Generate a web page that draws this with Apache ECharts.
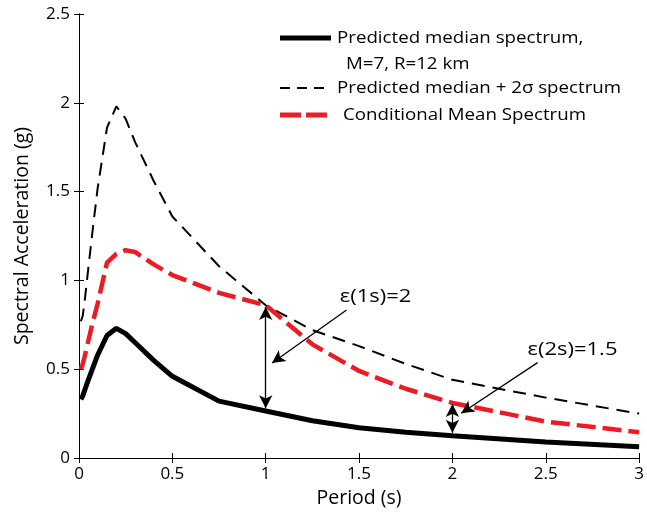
<!DOCTYPE html>
<html>
<head>
<meta charset="utf-8">
<script src="https://cdn.jsdelivr.net/npm/echarts@6/dist/echarts.min.js"></script>
<style>
html,body{margin:0;padding:0;background:#fff;}
#chart{width:647px;height:513px;}
</style>
</head>
<body>
<div id="chart"></div>
<script>
// ---- data ----
const periods = [0.01,0.02,0.03,0.05,0.075,0.1,0.15,0.2,0.25,0.3,0.4,0.5,0.75,1,1.25,1.5,1.75,2,2.5,3];
const medianSa = [0.33,0.35,0.38,0.44,0.51,0.58,0.69,0.73,0.70,0.65,0.55,0.46,0.32,0.265,0.21,0.17,0.145,0.125,0.09,0.063];
const plus2SigmaSa = [0.77,0.80,0.88,1.07,1.30,1.52,1.86,1.98,1.91,1.78,1.56,1.36,1.08,0.86,0.72,0.63,0.53,0.44,0.34,0.25];
const cmsSa = [0.50,0.53,0.57,0.66,0.77,0.87,1.10,1.15,1.17,1.16,1.09,1.03,0.93,0.86,0.64,0.49,0.39,0.31,0.205,0.145];

const xTicks = [0,0.5,1,1.5,2,2.5,3];
const yTicks = [0,0.5,1,1.5,2,2.5];

const legendNames = ['Predicted median spectrum,', 'M=7, R=12 km', 'Predicted median + 2\u03c3 spectrum', 'Conditional Mean Spectrum'];
const xTitle = 'Period (s)';
const yTitle = 'Spectral Acceleration (g)';

// annotations (data coordinates)
const doubleArrows = [
  {x:1, from:0.28, to:0.85},
  {x:2, from:0.142, to:0.304}
];
const pointers = [
  {from:[1.433,0.833], to:[1.034,0.535]},
  {from:[2.456,0.537], to:[2.047,0.252]}
];
const annoTexts = [
  {at:[1.588,0.907], text:'\u03b5(1s)=2'},
  {at:[2.643,0.608], text:'\u03b5(2s)=1.5'}
];

const FONT = '"Open Sans", sans-serif';
const RED = '#ED1C24';
const pairs = arr => periods.map((p,i)=>[p, arr[i]]);

const chart = echarts.init(document.getElementById('chart'), null, {renderer:'canvas'});

const axisCommon = {
  axisLine:{show:true, lineStyle:{color:'#000', width:1}},
  axisTick:{show:true, inside:true, length:5, lineStyle:{color:'#000', width:1}},
  splitLine:{show:false}
};

const markLines = [];
doubleArrows.forEach(a=>{
  markLines.push([{coord:[a.x,a.from], symbol:'arrow'}, {coord:[a.x,a.to], symbol:'arrow'}]);
});
pointers.forEach(p=>{
  markLines.push([{coord:p.from, symbol:'none'}, {coord:p.to, symbol:'arrow'}]);
});

const option = {
  animation:false,
  backgroundColor:'#fff',
  grid:{left:79, right:5, top:14, bottom:55, containLabel:false},
  xAxis:[
    Object.assign({}, axisCommon, {
      type:'value', min:0, max:3, interval:0.5, position:'bottom',
      axisLabel:{color:'#000', fontFamily:FONT, fontSize:17, margin:8,
        formatter:v=> xTicks.includes(v) ? String(v) : ''},
      name:xTitle, nameLocation:'middle', nameGap:30,
      nameTextStyle:{color:'#000', fontFamily:FONT, fontSize:19.5}
    }),
    Object.assign({}, axisCommon, {
      type:'value', min:0, max:3, interval:0.5, position:'top',
      axisLabel:{show:false}
    })
  ],
  yAxis:[
    Object.assign({}, axisCommon, {
      type:'value', min:0, max:2.5, interval:0.5, position:'left',
      axisLabel:{color:'#000', fontFamily:FONT, fontSize:17, margin:9,
        formatter:v=> yTicks.includes(v) ? String(v) : ''},
      name:yTitle, nameLocation:'middle', nameGap:47,
      nameTextStyle:{color:'#000', fontFamily:FONT, fontSize:19.5}
    }),
    Object.assign({}, axisCommon, {
      type:'value', min:0, max:2.5, interval:0.5, position:'right',
      axisLabel:{show:false}
    })
  ],
  series:[
    {
      name:legendNames[2], type:'line', data:pairs(plus2SigmaSa), showSymbol:false,
      lineStyle:{color:'#000', width:2, type:[13,8]}, z:3
    },
    {
      name:legendNames[3], type:'line', data:pairs(cmsSa), showSymbol:false,
      lineStyle:{color:RED, width:4.5, type:[19,7]}, z:4
    },
    {
      name:legendNames[0], type:'line', data:pairs(medianSa), showSymbol:false,
      lineStyle:{color:'#000', width:5}, z:5
    },
    {
      name:'annotations', type:'line', data:[], z:6,
      markLine:{
        silent:true, animation:false, symbolSize:[10,13],
        label:{show:false},
        lineStyle:{color:'#000', width:1.3, type:'solid'},
        emphasis:{disabled:true},
        data:markLines
      }
    }
  ]
};
chart.setOption(option);

// legend (drawn as graphic) and annotation texts
const g = [];
const legendRows = [
  {y:38, text:legendNames[0], tx:337, style:{stroke:'#000', lineWidth:5}},
  {y:64, text:legendNames[1], tx:346, style:null},
  {y:88, text:legendNames[2], tx:337, style:{stroke:'#000', lineWidth:2, lineDash:[10,7]}},
  {y:115, text:legendNames[3], tx:343, style:{stroke:RED, lineWidth:5, lineDash:[21,5]}}
];
legendRows.forEach(r=>{
  if (r.style) {
    g.push({type:'line', shape:{x1:280, y1:r.y, x2:(r.style.stroke===RED?327:331), y2:r.y}, style:r.style, silent:true, z:10});
  }
  g.push({type:'text', x:r.tx, y:r.y, scaleX:1.1, style:{text:r.text, fill:'#000', font:'17px ' + FONT, textVerticalAlign:'middle', verticalAlign:'middle'}, silent:true, z:10});
});
annoTexts.forEach(a=>{
  const p = chart.convertToPixel({xAxisIndex:0, yAxisIndex:0}, a.at);
  g.push({type:'text', x:p[0], y:p[1], scaleX:1.22, style:{text:a.text, fill:'#000', font:'18px ' + FONT, align:'center', verticalAlign:'middle', textAlign:'center', textVerticalAlign:'middle'}, silent:true, z:10});
});
chart.setOption({graphic:g});
</script>
</body>
</html>
